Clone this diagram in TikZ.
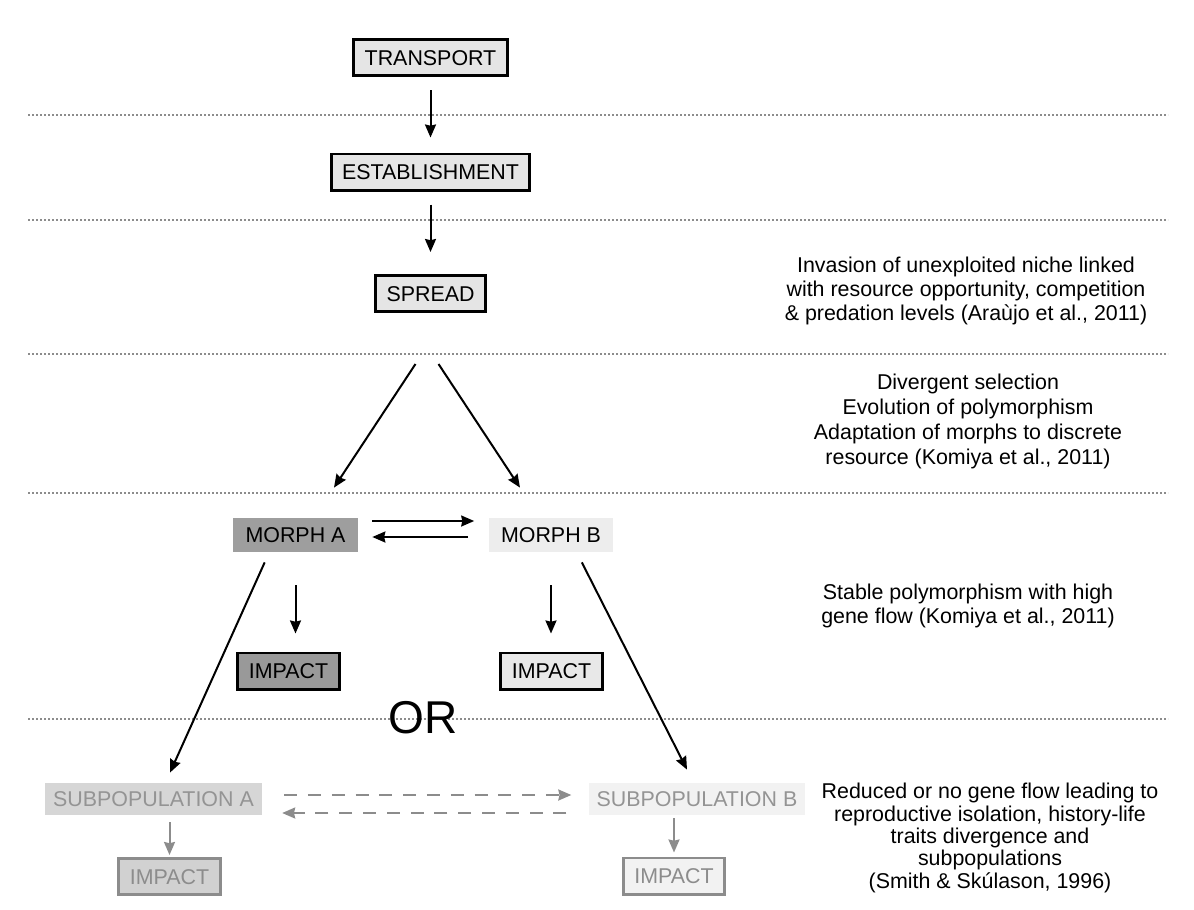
\documentclass[tikz,border=0pt]{standalone}
\usepackage{fontspec}
\setmainfont{Liberation Sans}
\usepackage{tikz}
\usetikzlibrary{arrows.meta,positioning,shapes}
\tikzset{
    %Define standard arrow tip
    >={Stealth[length=6.5pt,width=5.5pt,inset=0.6pt]},
    %Define style for boxes
    stagebox/.style={
             rectangle,
             draw=black, line width=1.4pt,
             fill=black!10,
             text height=7.7pt, text depth=0pt,
             inner xsep=5.5pt, inner ysep=5.2pt,
             font={\fontsize{10.7}{12}\selectfont}},
    morphbox/.style={
             rectangle,
             text height=7.7pt, text depth=0pt,
             inner xsep=6.25pt, inner ysep=4.65pt,
             font={\fontsize{10.7}{12}\selectfont}},
    subbox/.style={
             rectangle,
             text=black!42,
             text height=7.7pt, text depth=0pt,
             inner xsep=4pt, inner ysep=4.15pt,
             font={\fontsize{10.7}{12}\selectfont}},
    fadebox/.style={
             stagebox,
             draw=black!45,
             text=black!45},
    notenode/.style={
             align=center,
             font={\fontsize{10.7}{11.8}\selectfont}},
    ortext/.style={
             inner sep=0pt,
             font={\fontsize{23}{26}\selectfont}},
    % Define arrow style
    flowarrow/.style={
            ->,
            line width=1pt},
    fadearrow/.style={
            ->,
            black!45,
            line width=1pt},
    sepline/.style={
            black!45,
            line width=0.6pt,
            dash pattern=on 0.8pt off 1.2pt}
}
\begin{document}
\begin{tikzpicture}[x=0.5pt, y=-0.5pt]
 \useasboundingbox (0,0) rectangle (1194,910);
 % stage separators
 \foreach \y in {115,220,354,493,719}
   \draw[sepline] (28,\y) -- (1168,\y);
 % stages
 \node[stagebox] (transport) at (430.5,57.5) {TRANSPORT};
 \node[stagebox] (establish) at (430.5,172) {ESTABLISHMENT};
 \node[stagebox] (spread) at (430.5,293.5) {SPREAD};
 \node[morphbox, fill=black!38] (morphA) at (295.5,535) {MORPH A};
 \node[morphbox, fill=black!7] (morphB) at (551,535) {MORPH B};
 \node[stagebox, fill=black!40] (impactA) at (288.5,671) {IMPACT};
 \node[stagebox, fill=black!9] (impactB) at (551.5,671) {IMPACT};
 \node[ortext] (ornode) at (423,718) {OR};
 \node[subbox, fill=black!16] (subA) at (153.5,799) {SUBPOPULATION A};
 \node[subbox, fill=black!5] (subB) at (697,799) {SUBPOPULATION B};
 \node[fadebox, fill=black!18] (impactAA) at (169.5,876.5) {IMPACT};
 \node[fadebox, fill=black!5] (impactBB) at (674,876) {IMPACT};
 % notes
 \node[notenode] (notespread) at (966,291)
   {Invasion of unexploited niche linked\\with resource opportunity, competition\\\& predation levels (Araùjo et al., 2011)};
 \node[notenode, font={\fontsize{10.7}{12.5}\selectfont}] (notediverge) at (968,421)
   {Divergent selection\\Evolution of polymorphism\\Adaptation of morphs to discrete\\resource (Komiya et al., 2011)};
 \node[notenode] (notestable) at (968,606)
   {Stable polymorphism with high\\gene flow (Komiya et al., 2011)};
 \node[notenode, font={\fontsize{10.7}{11.2}\selectfont}] (notereduced) at (990,838)
   {Reduced or no gene flow leading to\\reproductive isolation, history-life\\traits divergence and\\subpopulations\\(Smith \& Skúlason, 1996)};
 % arrows
 \draw[flowarrow, shorten <=6.5pt, shorten >=7.5pt] (transport) -- (establish);
 \draw[flowarrow, shorten <=6.5pt, shorten >=11pt] (establish) -- (spread);
 \draw[flowarrow] ([xshift=-7.5pt,yshift=-25.5pt]spread.south) -- ([xshift=19.25pt,yshift=15pt]morphA.north);
 \draw[flowarrow] ([xshift=4pt,yshift=-25.5pt]spread.south) -- ([xshift=-15.5pt,yshift=15pt]morphB.north);
 \draw[flowarrow, shorten <=7pt, shorten >=7pt] ([yshift=7pt]morphA.east) -- ([yshift=7pt]morphB.west);
 \draw[flowarrow, shorten <=10pt, shorten >=7pt] ([yshift=-1pt]morphB.west) -- ([yshift=-1pt]morphA.east);
 \draw[flowarrow, shorten <=16.5pt, shorten >=9pt] (morphA.south) -- (morphA.south |- impactA.north);
 \draw[flowarrow, shorten <=16.5pt, shorten >=9pt] (morphB.south) -- (morphB.south |- impactB.north);
 \draw[flowarrow] ([xshift=16pt,yshift=-5pt]morphA.south west) -- ([xshift=8.25pt,yshift=5pt]subA.north);
 \draw[flowarrow] ([xshift=-16pt,yshift=-5pt]morphB.south east) -- ([xshift=-5pt,yshift=6.5pt]subB.north);
 \draw[fadearrow, dash pattern=on 6.5pt off 5.4pt, shorten <=11pt, shorten >=8.5pt] ([yshift=2pt]subA.east) -- ([yshift=2pt]subB.west);
 \draw[fadearrow, dash pattern=on 6.5pt off 5.4pt, shorten <=11pt, shorten >=10pt] ([yshift=-7pt]subB.west) -- ([yshift=-7pt]subA.east);
 \draw[fadearrow, shorten <=3.5pt, shorten >=1pt] (subA.south -| impactAA.north) -- (impactAA.north);
 \draw[fadearrow, shorten <=1.5pt, shorten >=2pt] (subB.south -| impactBB.north) -- (impactBB.north);
\end{tikzpicture}
\end{document}
